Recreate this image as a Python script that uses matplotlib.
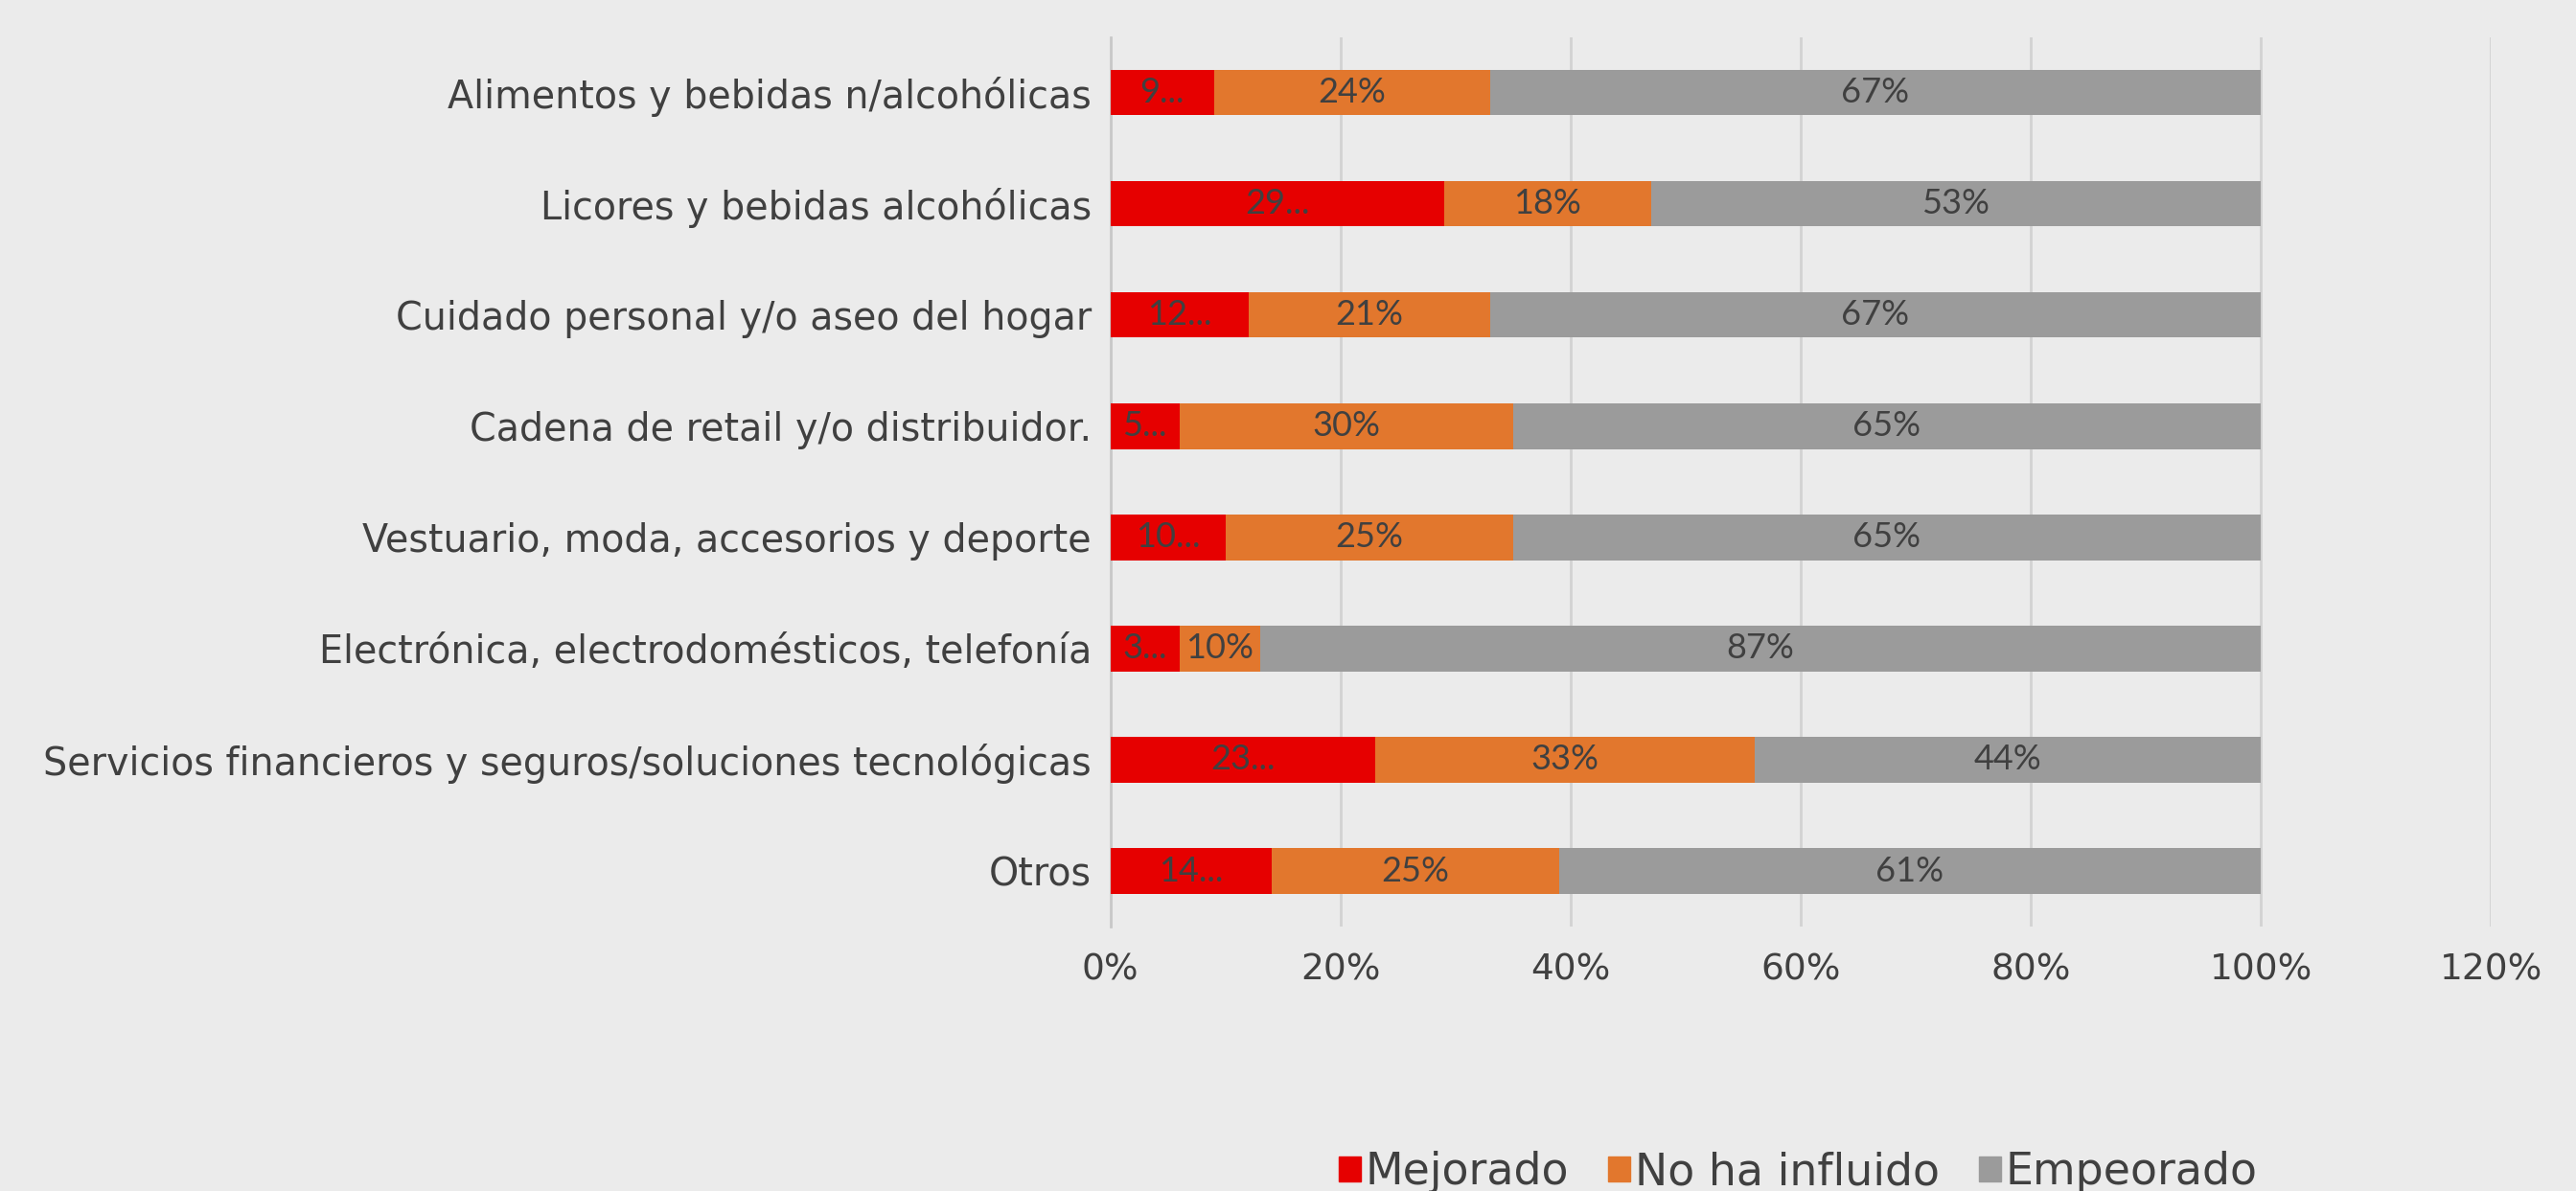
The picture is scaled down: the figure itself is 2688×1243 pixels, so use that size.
import numpy as np
import matplotlib.pyplot as plt
from matplotlib.patches import Patch

# datos
categorias = ["Alimentos y bebidas n/alcohólicas",
              "Licores y bebidas alcohólicas",
              "Cuidado personal y/o aseo del hogar",
              "Cadena de retail y/o distribuidor.",
              "Vestuario, moda, accesorios y deporte",
              "Electrónica, electrodomésticos, telefonía",
              "Servicios financieros y seguros/soluciones tecnológicas",
              "Otros"]
mejorado = [9, 29, 12, 6, 10, 6, 23, 14]
no_influido = [24, 18, 21, 29, 25, 7, 33, 25]
empeorado = [67, 53, 67, 65, 65, 87, 44, 61]
# etiquetas tal como aparecen (Excel las trunca)
et_mejorado = ["9...", "29...", "12...", "5...", "10...", "3...", "23...", "14..."]
et_no_influido = ["24%", "18%", "21%", "30%", "25%", "10%", "33%", "25%"]
et_empeorado = ["67%", "53%", "67%", "65%", "65%", "87%", "44%", "61%"]
series = ["Mejorado", "No ha influido", "Empeorado"]
ticks = [0, 20, 40, 60, 80, 100, 120]

fondo = "#ebebeb"
c_rojo = "#e60000"
c_nar = "#e2772d"
c_gris = "#9b9b9b"
txt = "#404040"
fuente = "DejaVu Sans"

fig = plt.figure(figsize=(26.88, 12.43), dpi=100, facecolor=fondo)
ax = fig.add_axes([0.431, 0.222, 0.536, 0.747], facecolor=fondo)

y = np.arange(len(categorias))
h = 0.41
m = np.array(mejorado)
n = np.array(no_influido)
e = np.array(empeorado)
b1 = ax.barh(y, m, height=h, color=c_rojo, zorder=3)
b2 = ax.barh(y, n, left=m, height=h, color=c_nar, zorder=3)
b3 = ax.barh(y, e, left=m + n, height=h, color=c_gris, zorder=3)

for bars, labs in [(b1, et_mejorado), (b2, et_no_influido), (b3, et_empeorado)]:
    for r, lab in zip(bars, labs):
        cx = r.get_x() + r.get_width() / 2
        ax.text(cx, r.get_y() + r.get_height() / 2, lab, ha="center", va="center",
                fontsize=26, color=txt, family="Lato", zorder=4)

ax.set_xlim(0, 120)
ax.set_ylim(len(categorias) - 0.5, -0.5)
ax.set_xticks(ticks)
ax.set_xticklabels([str(t) + "%" for t in ticks], fontsize=27, color=txt, family=fuente)
ax.set_yticks(y)
ax.set_yticklabels(categorias, fontsize=28.5, color=txt, family=fuente)
ax.tick_params(axis="both", length=0, pad=14)
ax.tick_params(axis="x", pad=20)
for s in ["top", "right", "bottom"]:
    ax.spines[s].set_visible(False)
ax.spines["left"].set_color("#c8c8c8")
ax.spines["left"].set_linewidth(2)
ax.grid(axis="x", color="#d2d2d2", linewidth=2, zorder=0)
ax.set_axisbelow(True)

handles = [Patch(color=c_rojo), Patch(color=c_nar), Patch(color=c_gris)]
leg = fig.legend(handles, series, loc="lower center", bbox_to_anchor=(0.698, -0.036),
                 ncol=3, frameon=False, handlelength=0.5, handleheight=0.5,
                 handletextpad=0.1, columnspacing=0.9,
                 prop={"family": fuente, "size": 33})
for t in leg.get_texts():
    t.set_color(txt)

fig.savefig("out.png", dpi=100, facecolor=fondo)
